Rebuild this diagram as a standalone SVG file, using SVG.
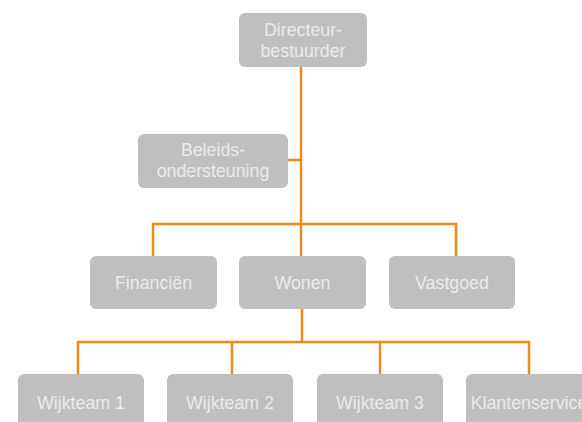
<svg xmlns="http://www.w3.org/2000/svg" width="582" height="422" viewBox="0 0 582 422">
<style>
.box{fill:#bfbfbf;}
.lbl{font-family:"Liberation Sans",Arial,sans-serif;font-size:17.8px;fill:#ebebeb;text-anchor:middle;}
.conn{stroke:#f08a1a;stroke-width:2.5;fill:none;}
</style>
<rect width="582" height="422" fill="#ffffff"/>
<g id="connectors">
<path class="conn" d="M301,67 V256"/>
<path class="conn" d="M288,160 H301"/>
<path class="conn" d="M153,256 V224 H456 V256"/>
<path class="conn" d="M302,309 V342"/>
<path class="conn" d="M78,374 V342 H529 V374"/>
<path class="conn" d="M232,342 V374"/>
<path class="conn" d="M380,342 V374"/>
</g>
<g id="directeur">
<rect class="box" x="239" y="13" width="128" height="54" rx="6"/>
<text class="lbl" x="303" y="36">Directeur-</text>
<text class="lbl" x="303" y="57">bestuurder</text>
</g>
<g id="beleids">
<rect class="box" x="138" y="134" width="150" height="54" rx="6"/>
<text class="lbl" x="213" y="156">Beleids-</text>
<text class="lbl" x="213" y="177">ondersteuning</text>
</g>
<g id="financien">
<rect class="box" x="90" y="256" width="127" height="53" rx="6"/>
<text class="lbl" x="153.5" y="289">Financiën</text>
</g>
<g id="wonen">
<rect class="box" x="239" y="256" width="127" height="53" rx="6"/>
<text class="lbl" x="302.5" y="289">Wonen</text>
</g>
<g id="vastgoed">
<rect class="box" x="389" y="256" width="126" height="53" rx="6"/>
<text class="lbl" x="452" y="289">Vastgoed</text>
</g>
<g id="wijkteam1">
<rect class="box" x="18" y="374" width="126" height="53" rx="6"/>
<text class="lbl" x="81" y="409">Wijkteam 1</text>
</g>
<g id="wijkteam2">
<rect class="box" x="167" y="374" width="126" height="53" rx="6"/>
<text class="lbl" x="230" y="409">Wijkteam 2</text>
</g>
<g id="wijkteam3">
<rect class="box" x="317" y="374" width="126" height="53" rx="6"/>
<text class="lbl" x="380" y="409">Wijkteam 3</text>
</g>
<g id="klantenservice">
<rect class="box" x="466" y="374" width="126" height="53" rx="6"/>
<text class="lbl" x="529" y="409">Klantenservice</text>
</g>
</svg>
